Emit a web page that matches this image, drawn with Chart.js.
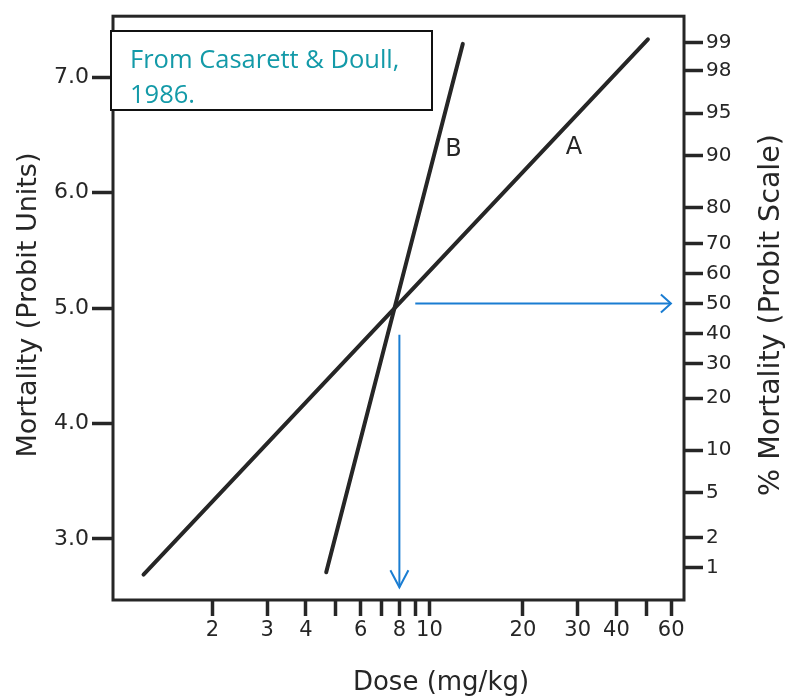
<!DOCTYPE html>
<html>
<head>
<meta charset="utf-8">
<script src="https://cdn.jsdelivr.net/npm/chart.js@4"></script>
<style>
  body { margin: 0; background: #fff; }
  #wrap { width: 786px; height: 696px; position: relative; }
</style>
</head>
<body>
<div id="wrap"><canvas id="probit" width="786" height="696"></canvas></div>
<script>
// dose-response lines (dose mg/kg, probit units)
const doseA = [1.20, 50.5];
const probitA = [2.69, 7.33];
const doseB = [4.65, 12.8];
const probitB = [2.71, 7.29];

// LD50 read-off arrows
const hArrowDose = [9.0, 59.9];
const hArrowProbit = [5.04, 5.04];
const vArrowDose = [8.0, 8.0];
const vArrowProbit = [4.77, 2.58];

// curve labels
const curveNames = ['A', 'B'];
const curveLabelDose = [29.2, 11.95];
const curveLabelProbit = [6.39, 6.37];

// axes
const probitTicks = [3, 4, 5, 6, 7];
const doseTicks = [2, 3, 4, 5, 6, 7, 8, 9, 10, 20, 30, 40, 50, 60];
const doseLabels = [2, 3, 4, 6, 8, 10, 20, 30, 40, 60];
const pctLabels = [1, 2, 5, 10, 20, 30, 40, 50, 60, 70, 80, 90, 95, 98, 99];
const pctProbit = [2.75, 3.01, 3.40, 3.77, 4.22, 4.52, 4.78, 5.04, 5.30, 5.56, 5.87, 6.32, 6.69, 7.06, 7.30];

const ink = '#262626';
const blue = '#1a7dd2';
const wide = '"DejaVu Sans", sans-serif';

function pts(xs, ys) {
  return xs.map((x, i) => ({x: x, y: ys[i]}));
}

const extras = {
  id: 'extras',
  afterDraw(chart) {
    const ctx = chart.ctx;
    const a = chart.chartArea;
    const xs = chart.scales.x, ys = chart.scales.y;
    ctx.save();
    // frame
    ctx.strokeStyle = ink;
    ctx.lineWidth = 3;
    ctx.strokeRect(a.left, a.top, a.right - a.left, a.bottom - a.top);

    // arrow heads
    ctx.strokeStyle = blue;
    ctx.lineWidth = 2;
    let hx = xs.getPixelForValue(hArrowDose[1]), hy = ys.getPixelForValue(hArrowProbit[1]);
    ctx.beginPath();
    ctx.moveTo(hx - 10, hy - 9); ctx.lineTo(hx, hy); ctx.lineTo(hx - 10, hy + 9);
    ctx.stroke();
    let vx = xs.getPixelForValue(vArrowDose[1]), vy = ys.getPixelForValue(vArrowProbit[1]);
    ctx.beginPath();
    ctx.moveTo(vx - 9, vy - 17); ctx.lineTo(vx, vy); ctx.lineTo(vx + 9, vy - 17);
    ctx.stroke();

    // curve labels
    ctx.fillStyle = ink;
    ctx.font = '24px ' + wide;
    ctx.textAlign = 'center';
    ctx.textBaseline = 'middle';
    curveNames.forEach((n, i) => {
      ctx.fillText(n, xs.getPixelForValue(curveLabelDose[i]), ys.getPixelForValue(curveLabelProbit[i]));
    });

    // axis titles
    ctx.font = '26px ' + wide;
    ctx.fillText('Dose (mg/kg)', 441, 683);
    ctx.save();
    ctx.translate(29, 305);
    ctx.rotate(-Math.PI / 2);
    ctx.font = '27px ' + wide;
    ctx.fillText('Mortality (Probit Units)', 0, 0);
    ctx.restore();
    ctx.save();
    ctx.translate(772, 315);
    ctx.rotate(-Math.PI / 2);
    ctx.font = '28.5px ' + wide;
    ctx.fillText('% Mortality (Probit Scale)', 0, 0);
    ctx.restore();

    // source note box
    ctx.fillStyle = '#fff';
    ctx.fillRect(111, 31, 321, 79);
    ctx.strokeStyle = '#111';
    ctx.lineWidth = 2;
    ctx.strokeRect(111, 31, 321, 79);
    ctx.fillStyle = '#139aa8';
    ctx.font = '25.5px "Open Sans", sans-serif';
    ctx.textAlign = 'left';
    ctx.textBaseline = 'alphabetic';
    ctx.fillText('From Casarett & Doull,', 130, 68);
    ctx.fillText('1986.', 130, 103);
    ctx.restore();
  }
};

new Chart(document.getElementById('probit'), {
  type: 'scatter',
  data: {
    datasets: [
      {data: pts(doseA, probitA), showLine: true, borderColor: ink, borderWidth: 4, pointRadius: 0, borderCapStyle: 'round'},
      {data: pts(doseB, probitB), showLine: true, borderColor: ink, borderWidth: 4, pointRadius: 0, borderCapStyle: 'round'},
      {data: pts(hArrowDose, hArrowProbit), showLine: true, borderColor: blue, borderWidth: 2, pointRadius: 0},
      {data: pts(vArrowDose, vArrowProbit), showLine: true, borderColor: blue, borderWidth: 2, pointRadius: 0}
    ]
  },
  options: {
    responsive: false,
    animation: false,
    layout: {padding: {top: 16, left: 0, right: 0, bottom: 0}},
    plugins: {legend: {display: false}, tooltip: {enabled: false}},
    scales: {
      x: {
        type: 'logarithmic',
        min: 0.957,
        max: 66,
        afterBuildTicks: (s) => { s.ticks = doseTicks.map(v => ({value: v})); },
        afterFit: (s) => { s.height = 96; },
        border: {display: false},
        grid: {drawOnChartArea: false, tickLength: 16, tickWidth: 3.5, tickColor: ink},
        ticks: {
          autoSkip: false, maxRotation: 0, padding: 2, color: ink,
          font: {family: wide, size: 21},
          callback: (v) => doseLabels.includes(v) ? String(v) : ''
        }
      },
      y: {
        type: 'linear',
        position: 'left',
        min: 2.47,
        max: 7.53,
        afterBuildTicks: (s) => { s.ticks = probitTicks.map(v => ({value: v})); },
        afterFit: (s) => { s.width = 113; },
        border: {display: false},
        grid: {drawOnChartArea: false, tickLength: 21, tickWidth: 3.5, tickColor: ink},
        ticks: {
          padding: 3, color: ink,
          font: {family: wide, size: 22},
          callback: (v) => v.toFixed(1)
        }
      },
      y2: {
        type: 'linear',
        position: 'right',
        min: 2.47,
        max: 7.53,
        afterBuildTicks: (s) => { s.ticks = pctProbit.map(v => ({value: v})); },
        afterFit: (s) => { s.width = 102; },
        border: {display: false},
        grid: {drawOnChartArea: false, tickLength: 19, tickWidth: 3.5, tickColor: ink},
        ticks: {
          padding: 3, color: ink, autoSkip: false,
          font: {family: wide, size: 20},
          callback: (v, i) => String(pctLabels[i])
        }
      }
    }
  },
  plugins: [extras]
});
</script>
</body>
</html>
